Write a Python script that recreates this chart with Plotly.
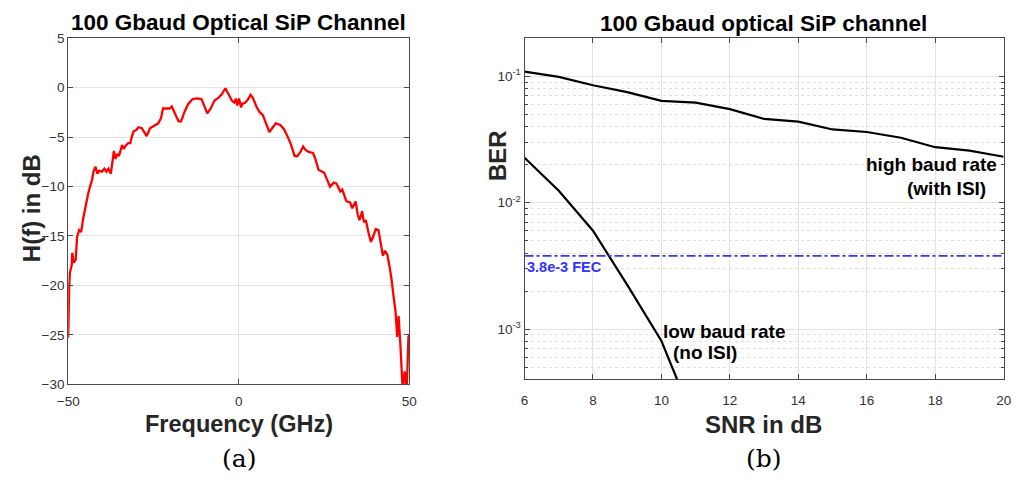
import plotly.graph_objects as go
import math

# ---------------- data ----------------
freq_ghz = [-50.0, -49.9, -49.7, -49.5, -49.0, -48.8, -48.4, -47.8, -47.4, -46.8, -46.2,
            -45.7, -45.2, -44.7, -44.2, -43.6, -43.0, -42.6, -42.0, -41.4, -40.9, -40.1,
            -39.4, -38.8, -38.2, -37.5, -37.0, -36.6, -36.1, -35.6, -35.1, -34.6, -34.2,
            -33.7, -33.2, -32.4, -31.8, -31.3, -30.8, -30.1, -29.4, -28.4, -27.6, -27.0,
            -26.0, -24.6, -23.6, -22.8, -22.2, -21.2, -20.2, -19.6, -19.0, -18.3, -17.6,
            -16.9, -15.9, -14.8, -13.5, -12.3, -10.9, -10.0, -9.2, -8.2, -7.1, -5.8,
            -4.9, -3.9, -3.0, -2.0, -1.3, -0.8, -0.4, 0.1, 0.7, 1.1, 1.8, 2.6, 3.5,
            4.2, 5.2, 6.1, 7.1, 8.1, 9.0, 10.0, 10.9, 12.2, 13.3, 14.3, 15.3, 16.4,
            17.2, 18.1, 18.9, 19.6, 20.5, 21.8, 22.5, 23.4, 24.4, 25.1, 25.8, 26.8,
            27.9, 28.7, 29.8, 30.4, 31.6, 32.7, 33.3, 34.3, 34.9, 35.4, 35.9, 36.2,
            36.7, 37.3, 38.1, 38.8, 39.4, 40.2, 41.0, 41.7, 42.3, 42.9, 43.6, 44.2,
            44.8, 45.5, 46.0, 46.5, 46.9, 47.4, 47.9, 48.1, 48.7, 49.3, 49.8, 50.0]
h_db = [-25.3, -22.6, -20.0, -18.7, -18.0, -16.7, -17.7, -17.4, -15.1, -14.4, -14.6,
        -13.4, -12.5, -11.5, -10.8, -10.0, -9.3, -8.5, -8.0, -8.7, -8.4, -8.5,
        -8.2, -8.5, -8.2, -8.7, -7.4, -6.4, -7.2, -6.7, -6.9, -6.1, -5.8,
        -6.2, -5.9, -5.6, -5.6, -4.9, -4.4, -4.3, -4.0, -4.1, -4.6, -4.9,
        -4.1, -3.8, -3.6, -3.1, -2.1, -2.1, -2.1, -1.9, -2.3, -2.9, -3.4,
        -3.4, -2.45, -1.64, -1.15, -1.08, -1.15, -1.96, -2.6, -2.1, -1.3, -0.98,
        -0.65, -0.05, -0.65, -1.3, -1.5, -1.1, -1.8, -1.1, -2.0, -1.6, -1.55, -1.25, -0.72,
        -1.05, -1.9, -2.45, -2.78, -3.6, -4.5, -4.0, -3.6, -3.76, -4.2, -4.9, -5.7, -6.9,
        -6.93, -6.5, -5.95, -6.3, -6.5, -6.6, -7.2, -8.3, -8.5, -8.6, -9.2, -10.0,
        -9.6, -9.7, -10.5, -10.3, -11.5, -11.6, -12.2, -11.5, -12.8, -13.4, -12.9, -12.5,
        -13.6, -13.4, -14.7, -15.6, -15.1, -14.3, -14.4, -15.7, -17.0, -16.5, -16.9, -18.0,
        -19.3, -21.3, -22.6, -25.2, -23.1, -25.8, -29.1, -30.5, -28.7, -30.5, -25.2, -25.0]

snr_db = [6, 7, 8, 9, 10, 11, 12, 13, 14, 15, 16, 17, 18, 19, 20]
ber_high = [0.109, 0.099, 0.085, 0.075, 0.064, 0.062, 0.055, 0.046, 0.0438, 0.038,
            0.0363, 0.0327, 0.0275, 0.0258, 0.0231]
snr_low = [6, 7, 8, 9, 10, 11]
ber_low = [0.0227, 0.01245, 0.0060, 0.00224, 0.000805, 0.000175]
fec_snr = [6, 20]
fec_ber = [3.8e-3, 3.8e-3]

left_xticks = [-50, 0, 50]
left_yticks = [5, 0, -5, -10, -15, -20, -25, -30]
right_xticks = [6, 8, 10, 12, 14, 16, 18, 20]
right_yticks = [1e-3, 1e-2, 1e-1]
right_yticklabels = ["10<sup>-3</sup>", "10<sup>-2</sup>", "10<sup>-1</sup>"]

# ---------------- layout helpers ----------------
W, H = 1020, 485
def px(x):
    return x / W
def py(y):
    return 1 - y / H

FONT = "Liberation Sans, Arial, sans-serif"
AXC = "#262626"
TICKC = "#333333"
LINEC = "#4a4a4a"
GRIDC = "#e3e3e3"

fig = go.Figure()
fig.add_trace(go.Scatter(x=freq_ghz, y=h_db, mode="lines",
                         line=dict(color="#ff0000", width=2.3), xaxis="x", yaxis="y",
                         showlegend=False))
fig.add_trace(go.Scatter(x=snr_db, y=ber_high, mode="lines",
                         line=dict(color="black", width=2.2), xaxis="x2", yaxis="y2",
                         showlegend=False))
fig.add_trace(go.Scatter(x=snr_low, y=ber_low, mode="lines",
                         line=dict(color="black", width=2.2), xaxis="x2", yaxis="y2",
                         showlegend=False))
fig.add_trace(go.Scatter(x=fec_snr, y=fec_ber, mode="lines",
                         line=dict(color="#3333ff", width=1.6, dash="dashdot"),
                         xaxis="x2", yaxis="y2", showlegend=False))

common = dict(showline=True, linecolor=LINEC, linewidth=1, mirror="ticks",
              ticks="inside", ticklen=5, tickcolor=LINEC, zeroline=False,
              tickfont=dict(family=FONT, size=13.5, color=TICKC),
              showgrid=True, gridcolor=GRIDC, gridwidth=1)

minor_vals = [m * 10 ** e for e in (-4, -3, -2, -1) for m in range(2, 10)]

fig.update_layout(
    width=W, height=H, margin=dict(l=0, r=0, t=0, b=0),
    paper_bgcolor="white", plot_bgcolor="white",
    xaxis=dict(domain=[px(58.3), px(405.7)], range=[-50, 50], tickvals=left_xticks,
               anchor="y", ticklabelstandoff=5, **common),
    yaxis=dict(domain=[py(389.3), py(32.3)], range=[-30, 5], tickvals=left_yticks,
               anchor="x", **common),
    xaxis2=dict(domain=[px(523.3), px(1011.5)], range=[6, 20], tickvals=right_xticks,
                anchor="y2", ticklabelstandoff=8, **common),
    yaxis2=dict(domain=[py(384.3), py(32.3)], type="log",
                range=[math.log10(4e-4), math.log10(0.2)],
                tickvals=right_yticks, ticktext=right_yticklabels, anchor="x2",
                minor=dict(tickvals=minor_vals, ticks="inside", ticklen=3,
                           tickcolor=LINEC, showgrid=True, gridcolor="#e0e0e0",
                           griddash="dot", gridwidth=1),
                **common),
)

def ann(text, x, y, size, bold=True, color="black", family=FONT, xanchor="center",
        angle=0):
    fig.add_annotation(text=("<b>%s</b>" % text) if bold else text,
                       x=px(x), y=py(y), xref="paper", yref="paper",
                       xanchor=xanchor, yanchor="middle", showarrow=False,
                       textangle=angle, font=dict(family=family, size=size, color=color))

ann("100 Gbaud Optical SiP Channel", 232, 16, 22.5)
ann("100 Gbaud optical SiP channel", 767, 17, 22.5)
ann("Frequency (GHz)", 232, 430, 23.5, color=AXC)
ann("SNR in dB", 767, 431, 24, color=AXC)
ann("H(f) in dB", 21, 208, 24, color=AXC, angle=-90)
ann("BER", 496, 153, 24, color=AXC, angle=-90)
ann("high baud rate", 869, 163, 19, xanchor="left")
ann("(with ISI)", 911, 187, 19, xanchor="left")
ann("low baud rate", 662, 335, 19, xanchor="left")
ann("(no ISI)", 673, 357, 19, xanchor="left")
ann("3.8e-3 FEC", 524, 268, 14.5, color="#3333ff", xanchor="left")
ann("(a)", 232, 466, 25, bold=False, family="DejaVu Serif, serif")
ann("(b)", 767, 466, 25, bold=False, family="DejaVu Serif, serif")

fig.write_html("out.html")
